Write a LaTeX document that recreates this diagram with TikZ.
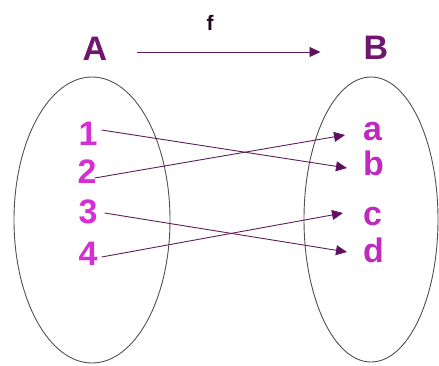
\documentclass[tikz,border=0pt]{standalone}
\usepackage{fontspec}
\setmainfont{Liberation Sans}
\usetikzlibrary{shapes.geometric,arrows.meta}
\definecolor{digitmag}{RGB}{214,46,214}
\definecolor{lettermag}{RGB}{192,40,192}
\definecolor{setpurple}{RGB}{112,22,112}
\definecolor{arrowpurple}{RGB}{92,30,92}
\definecolor{tippurple}{RGB}{100,12,100}
\definecolor{ringgray}{RGB}{80,80,80}
\tikzset{
  setring/.style={draw=ringgray, line width=0.9pt, ellipse, inner sep=0pt},
  setname/.style={font=\bfseries\fontsize{34}{34}\selectfont, text=setpurple, inner sep=0pt, text height=24pt, text depth=0pt, anchor=base},
  elem/.style={font=\bfseries\fontsize{34}{34}\selectfont, text=digitmag, inner sep=0pt, text height=23pt, text depth=0pt, anchor=base},
  img/.style={font=\bfseries\fontsize{34}{34}\selectfont, text=lettermag, inner sep=0pt, text height=23pt, text depth=0pt, anchor=base west},
  maparrow/.style={draw=arrowpurple, line width=0.9pt, -{Triangle[length=11pt,width=10pt,fill=tippurple]}},
  fname/.style={font=\bfseries\fontsize{21}{21}\selectfont, text=black!70!setpurple, inner sep=0pt, anchor=base}
}
\begin{document}
\begin{tikzpicture}[x=1pt,y=-1pt]
\useasboundingbox (0,0) rectangle (439,365);
% sets
\node[setring, minimum width=156pt, minimum height=286pt] (setA) at (92,220) {};
\node[setring, minimum width=134pt, minimum height=285pt] (setB) at (371,219.5) {};
% set names and function
\node[setname] (A) at (95,60) {A};
\node[setname] (B) at (376,59) {B};
\node[fname] (f) at (210,30) {f};
\draw[maparrow] ([xshift=30pt,yshift=-4pt]A.east) -- ([xshift=-43pt,yshift=-5pt]B.west);
% elements of A
\node[elem] (n1) at (88,145) {1};
\node[elem] (n2) at (87,183) {2};
\node[elem] (n3) at (88,223) {3};
\node[elem] (n4) at (88,265) {4};
% elements of B
\node[img] (la) at (363,140) {a};
\node[img] (lb) at (363,175) {b};
\node[img] (lc) at (363,225) {c};
\node[img] (ld) at (363,262) {d};
% mapping
\draw[maparrow] ([xshift=4pt,yshift=3.5pt]n1.east) -- ([xshift=-16pt,yshift=-4.5pt]lb.west);
\draw[maparrow] ([xshift=-2pt,yshift=-6.5pt]n2.east) -- ([xshift=-18pt,yshift=-6.5pt]la.west);
\draw[maparrow] ([xshift=7pt,yshift=-1.5pt]n3.east) -- ([xshift=-16pt,yshift=-1.5pt]ld.west);
\draw[maparrow] ([xshift=4pt,yshift=-3.5pt]n4.east) -- ([xshift=-20pt,yshift=0.5pt]lc.west);
\end{tikzpicture}
\end{document}
